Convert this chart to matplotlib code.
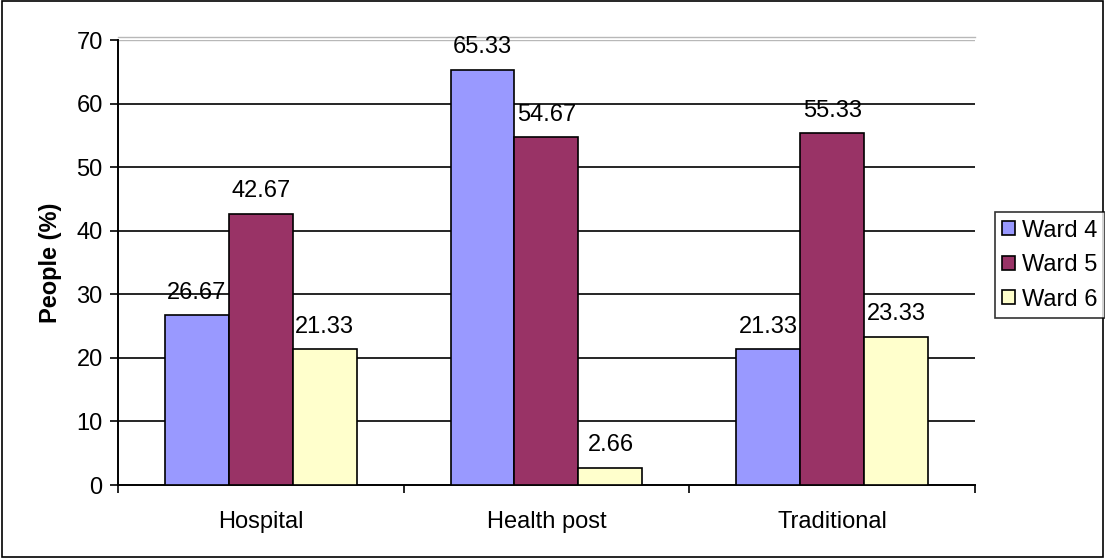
import numpy as np
import matplotlib
matplotlib.use('Agg')
import matplotlib.pyplot as plt
from matplotlib.patches import Rectangle

plt.rcParams['font.family'] = ['Liberation Sans', 'DejaVu Sans']

# Dados
categorias = ['Hospital', 'Health post', 'Traditional']
series = ['Ward 4', 'Ward 5', 'Ward 6']
ward4 = [26.67, 65.33, 21.33]
ward5 = [42.67, 54.67, 55.33]
ward6 = [21.33, 2.66, 23.33]
cores = ['#9999ff', '#993366', '#ffffcc']

fs = 17

fig = plt.figure(figsize=(11.05, 5.58), dpi=100)
fig.patches.append(Rectangle((0.0015, 0.002), 0.997, 0.996, transform=fig.transFigure,
                             fill=False, edgecolor='black', linewidth=1.2))
ax = fig.add_axes([0.1068, 0.1308, 0.7755, 0.7975])

x = np.arange(len(categorias))
largura = 0.224
for i, (vals, nome, cor) in enumerate(zip([ward4, ward5, ward6], series, cores)):
    pos = x + (i - 1) * largura
    ax.bar(pos, vals, largura, color=cor, edgecolor='black', linewidth=1.2, label=nome, zorder=3)
    for p, v in zip(pos, vals):
        ax.annotate(f'{v:.2f}', (p, v), xytext=(0, 12), textcoords='offset points',
                    ha='center', va='baseline', fontsize=fs, zorder=4)

ax.set_xlim(-0.5, 2.5)
ax.set_ylim(0, 70)
ax.set_yticks(range(0, 71, 10))
ax.tick_params(axis='y', labelsize=fs, direction='out', length=6, width=1.2, pad=5)

# rótulos no centro, marcas nas divisões
ax.set_xticks(x)
ax.set_xticklabels(categorias, fontsize=fs)
ax.tick_params(axis='x', which='major', length=0, pad=19)
ax.set_xticks([-0.5, 0.5, 1.5, 2.5], minor=True)
ax.tick_params(axis='x', which='minor', direction='out', length=6, width=1.2)

for y in range(10, 70, 10):
    ax.axhline(y, color='black', linewidth=1.2, zorder=1)
# linha dupla cinza no topo
ax.axhline(70, color='#b8b8b8', linewidth=1, zorder=1)
ax.plot([0, 1], [1.006, 1.006], transform=ax.transAxes, color='#b8b8b8',
        linewidth=1, clip_on=False, zorder=1)

ax.spines['top'].set_visible(False)
ax.spines['right'].set_visible(False)
ax.spines['left'].set_linewidth(1.4)
ax.spines['bottom'].set_linewidth(1.4)

ax.set_ylabel('People (%)', fontsize=fs, fontweight='bold', labelpad=10)

leg = fig.legend(loc='center left', bbox_to_anchor=(0.9005, 0.525), fontsize=fs,
                 frameon=True, fancybox=False, edgecolor='black', handlelength=0.55,
                 handleheight=0.55, handletextpad=0.3, borderpad=0.3, labelspacing=0.53,
                 borderaxespad=0)
leg.get_frame().set_linewidth(1.2)

fig.savefig('out.png', dpi=100)
